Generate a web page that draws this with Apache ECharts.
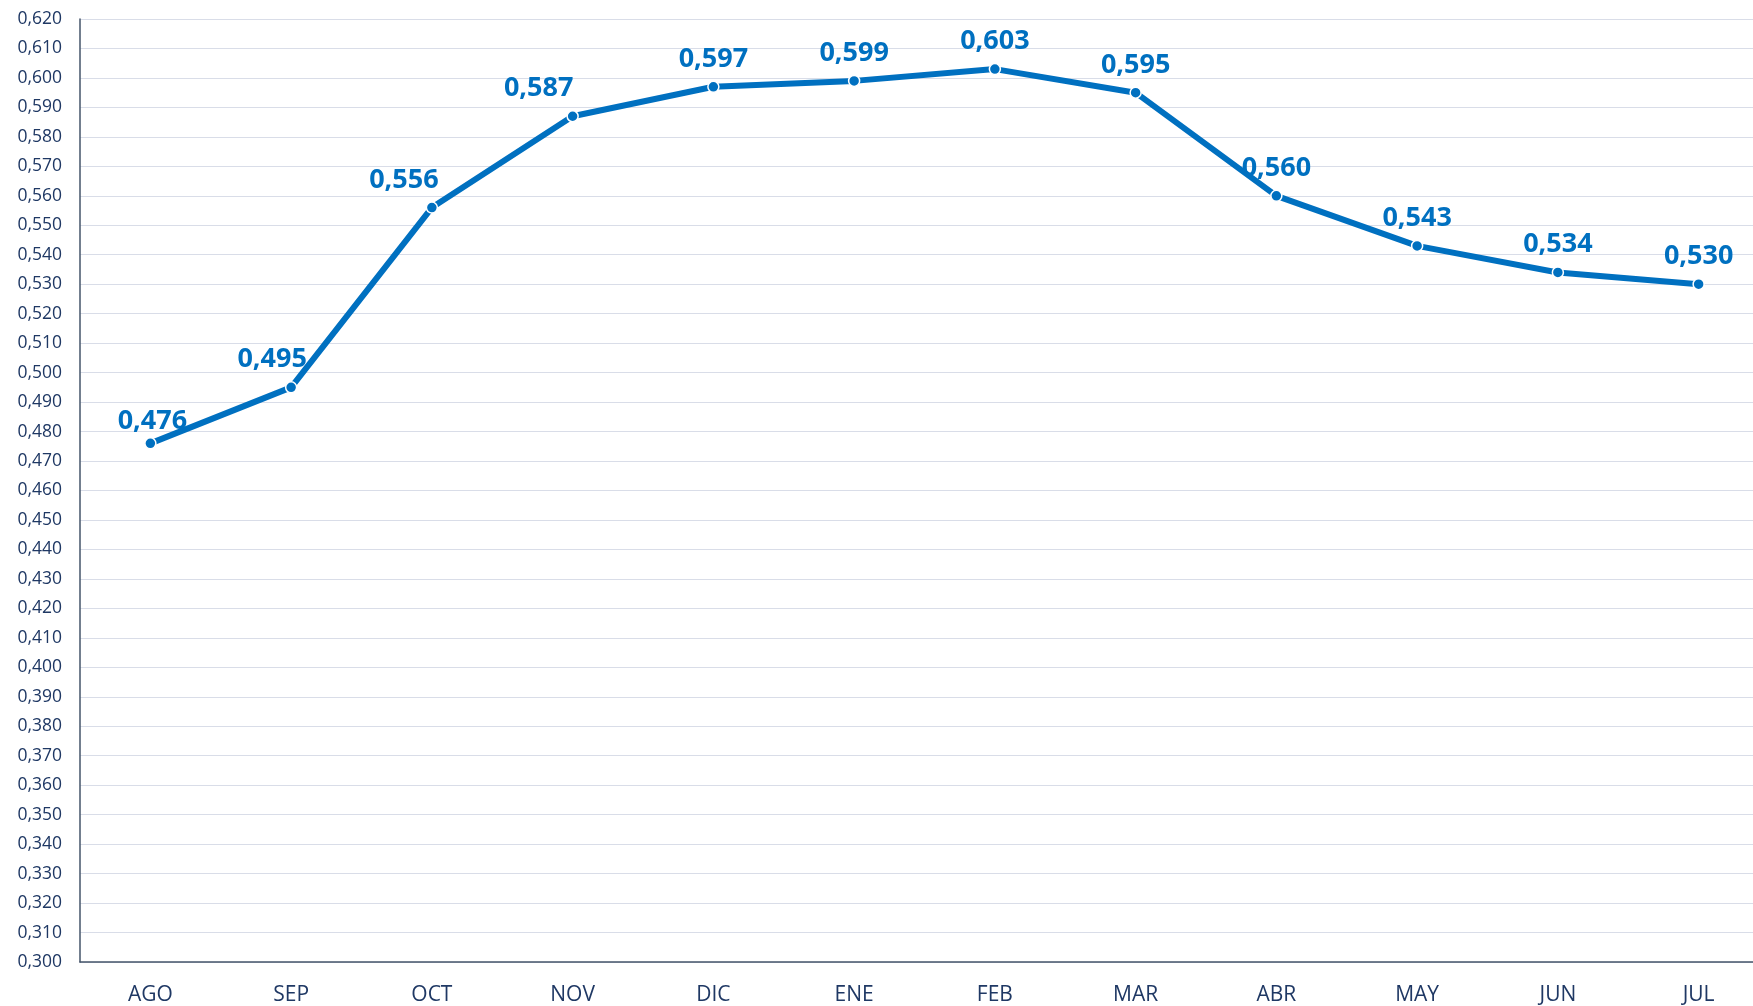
<!DOCTYPE html>
<html>
<head>
<meta charset="utf-8">
<script src="https://cdn.jsdelivr.net/npm/echarts@6/dist/echarts.min.js"></script>
<style>
  html, body { margin: 0; padding: 0; background: #fff; overflow: hidden; }
  #chart { width: 1769px; height: 1006px; }
</style>
</head>
<body>
<div id="chart"></div>
<script>
// meses
var meses = ['AGO', 'SEP', 'OCT', 'NOV', 'DIC', 'ENE', 'FEB', 'MAR', 'ABR', 'MAY', 'JUN', 'JUL'];
// valores
var valores = [0.476, 0.495, 0.556, 0.587, 0.597, 0.599, 0.603, 0.595, 0.560, 0.543, 0.534, 0.530];
// eje y
var yMin = 0.300;
var yMax = 0.620;
var yPaso = 0.010;

function coma(v, d) {
    return v.toFixed(d).replace('.', ',');
}

var azul = '#0070C0';
var texto = '#1F3864';

// etiquetas desplazadas a la izquierda en los tramos de subida (como en Excel)
var desplaza = { 0: [2, 6], 1: [-19, 0], 2: [-28, 0], 3: [-34, 0] };

var puntos = valores.map(function (v, i) {
    var item = { value: v };
    if (desplaza[i]) item.label = { offset: desplaza[i] };
    return item;
});

// el área del gráfico sobrepasa un poco el borde derecho, como en el original
var option = {
    animation: false,
    grid: { left: 80, right: 0, top: 19, bottom: 42 },
    xAxis: [{
        type: 'category',
        data: meses,
        boundaryGap: true,
        axisLine: { lineStyle: { color: '#44546A', width: 1.5 } },
        axisTick: { length: 8, lineStyle: { color: '#44546A', width: 1.5 } },
        axisLabel: { color: texto, fontSize: 21, fontFamily: 'Open Sans', margin: 23 }
    }, {
        type: 'category',
        data: meses,
        position: 'bottom',
        boundaryGap: true,
        axisLine: { show: false },
        axisTick: { alignWithLabel: true, length: 5, lineStyle: { color: '#44546A', width: 1.5 } },
        axisLabel: { show: false }
    }],
    yAxis: {
        type: 'value',
        min: yMin,
        max: yMax,
        interval: yPaso,
        axisLine: { show: true, lineStyle: { color: '#44546A', width: 1.5 } },
        axisTick: { show: false },
        splitLine: { lineStyle: { color: '#D9DDE8', width: 1.2 } },
        axisLabel: {
            color: texto, fontSize: 17.5, fontFamily: 'Open Sans', margin: 18,
            formatter: function (v) { return coma(v, 3); }
        }
    },
    series: [{
        type: 'line',
        data: puntos,
        symbol: 'circle',
        symbolSize: 11,
        lineStyle: { color: azul, width: 6 },
        itemStyle: { color: azul, borderColor: '#fff', borderWidth: 1.5 },
        label: {
            show: true,
            position: 'top',
            distance: 8,
            color: azul,
            fontSize: 27,
            fontWeight: 'bold',
            fontFamily: 'Open Sans',
            formatter: function (p) { return coma(p.value, 3); }
        }
    }]
};

var chart = echarts.init(document.getElementById('chart'));
chart.setOption(option);
</script>
</body>
</html>
